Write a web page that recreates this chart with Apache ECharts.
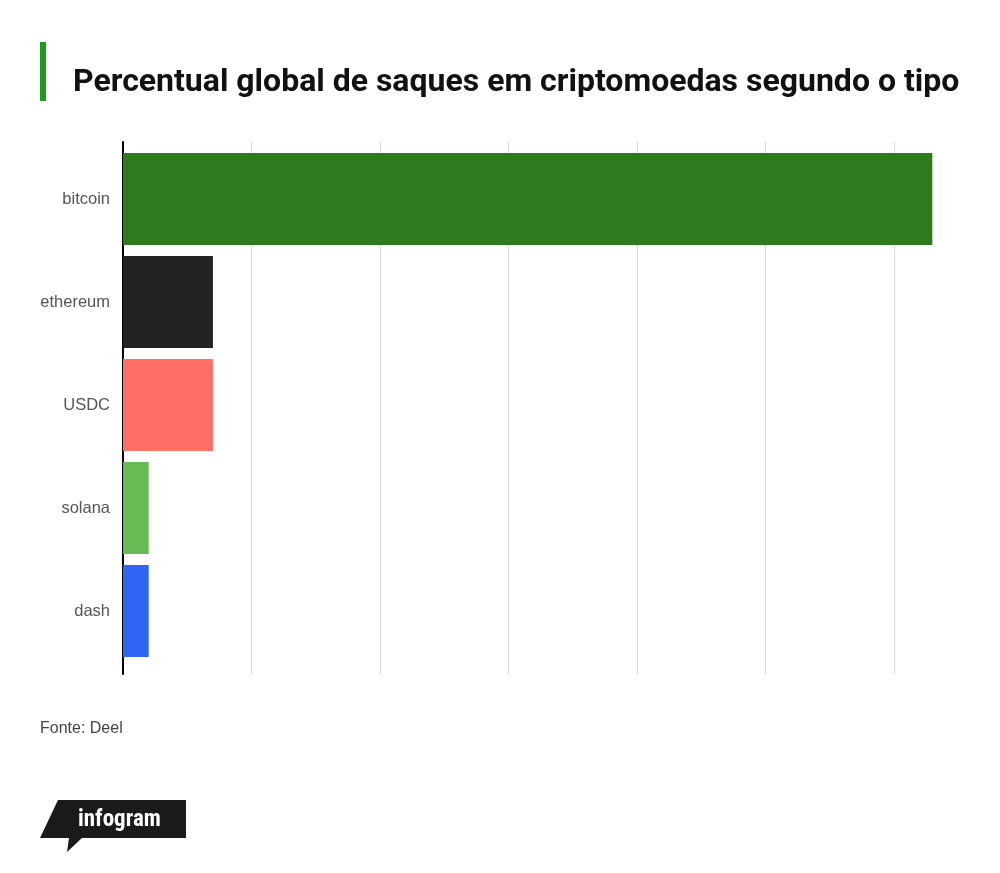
<!DOCTYPE html>
<html>
<head>
<meta charset="utf-8">
<script src="https://cdn.jsdelivr.net/npm/echarts@6/dist/echarts.min.js"></script>
<style>
html,body{margin:0;padding:0;background:#fff;}
#chart{width:1000px;height:873px;}
</style>
</head>
<body>
<div id="chart"></div>
<script>
const titleText = "Percentual global de saques em criptomoedas segundo o tipo";
const sourceText = "Fonte: Deel";
const categories = ["bitcoin", "ethereum", "USDC", "solana", "dash"];
const values = [63, 7, 7, 2, 2];
const colors = ["#2f7a1f", "#222222", "#ff6f66", "#66bb55", "#2e66f3"];
const xMin = 0, xMax = 65, xInterval = 10;

const chart = echarts.init(document.getElementById('chart'), null, {renderer: 'canvas'});
const option = {
  backgroundColor: '#ffffff',
  animation: false,
  title: {
    text: titleText,
    left: 68, top: 62,
    textStyle: {fontFamily: 'Roboto', fontWeight: 'bold', fontSize: 32, color: '#111111'}
  },
  grid: [
    {left: 123, right: 42, top: 147.5, bottom: 873 - 662.5},
    {left: 123, right: 42, top: 142, bottom: 873 - 674}
  ],
  xAxis: [
    {gridIndex: 0, type: 'value', min: xMin, max: xMax, interval: xInterval,
     axisLine: {show: false}, axisTick: {show: false}, axisLabel: {show: false}, splitLine: {show: false}},
    {gridIndex: 1, type: 'value', min: xMin, max: xMax, interval: xInterval,
     axisLine: {show: false}, axisTick: {show: false}, axisLabel: {show: false},
     splitLine: {show: true, showMinLine: false, showMaxLine: false, lineStyle: {color: '#d9d9d9', width: 1}}}
  ],
  yAxis: [
    {gridIndex: 0, type: 'category', data: categories, inverse: true,
     axisLine: {show: false}, axisTick: {show: false},
     axisLabel: {margin: 13, fontFamily: 'Liberation Sans', fontSize: 16.5, color: '#555555'}},
    {gridIndex: 1, type: 'value', min: 0, max: 1,
     axisLine: {show: true, onZero: false, lineStyle: {color: '#000000', width: 2}},
     axisTick: {show: false}, axisLabel: {show: false}, splitLine: {show: false}}
  ],
  series: [{
    type: 'bar', xAxisIndex: 0, yAxisIndex: 0,
    data: values.map((v, i) => ({value: v, itemStyle: {color: colors[i]}})),
    barWidth: 92, z: 3
  }],
  graphic: [
    {type: 'rect', shape: {x: 40, y: 42, width: 6, height: 59}, style: {fill: '#1e9a1e'}},
    {type: 'text', left: 40, top: 721, style: {text: sourceText, font: '16px "Liberation Sans"', fill: '#444444'}},
    {type: 'polygon', shape: {points: [[58, 800], [186, 800], [186, 838], [82, 838], [67, 852], [69, 838], [40, 838]]}, style: {fill: '#1a1a1a'}},
    {type: 'text', left: 78, top: 809, style: {text: 'infogram', font: 'bold 23px "Roboto Condensed", Roboto', fill: '#ffffff'}}
  ]
};
chart.setOption(option);
</script>
</body>
</html>
